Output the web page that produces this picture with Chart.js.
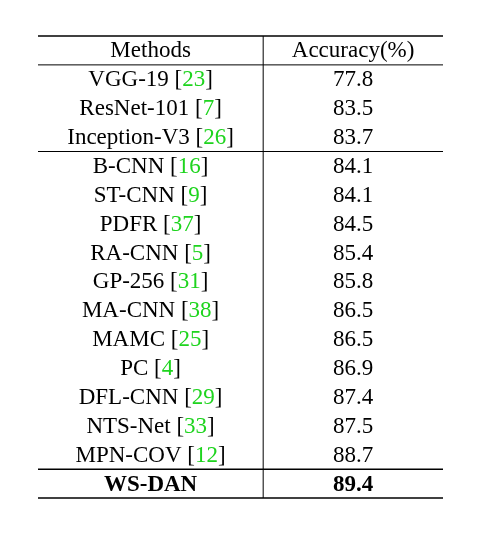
<!DOCTYPE html>
<html>
<head>
<meta charset="utf-8">
<script src="https://cdn.jsdelivr.net/npm/chart.js@4"></script>
<style>
  html, body { margin: 0; background: #fff; }
  #wrap { width: 481px; height: 543px; }
</style>
</head>
<body>
<div id="wrap"><canvas id="chart"></canvas></div>
<script>
// table rows
const methods = ['VGG-19', 'ResNet-101', 'Inception-V3', 'B-CNN', 'ST-CNN', 'PDFR', 'RA-CNN', 'GP-256',
  'MA-CNN', 'MAMC', 'PC', 'DFL-CNN', 'NTS-Net', 'MPN-COV', 'WS-DAN']
const refs = [23, 7, 26, 16, 9, 37, 5, 31, 38, 25, 4, 29, 33, 12, null]
const accuracy = [77.8, 83.5, 83.7, 84.1, 84.1, 84.5, 85.4, 85.8, 86.5, 86.5, 86.9, 87.4, 87.5, 88.7, 89.4]
const headers = ['Methods', 'Accuracy(%)']

const rowLabels = ['header', ...methods]

const tablePlugin = {
  id: 'table',
  afterDraw (chart) {
    const { ctx, chartArea: a, scales: { x, y } } = chart
    const rowH = y.getPixelForValue(1) - y.getPixelForValue(0)
    const edge = i => y.getPixelForValue(i) - rowH / 2
    const divX = x.getPixelForValue(0.556)
    const col1 = x.getPixelForValue(0.278)
    const col2 = x.getPixelForValue(0.778)
    const font = '23px "Liberation Serif"'

    ctx.save()
    ctx.strokeStyle = '#000'
    const hline = (yy, w) => { ctx.lineWidth = w; ctx.beginPath(); ctx.moveTo(a.left, yy); ctx.lineTo(a.right, yy); ctx.stroke() }
    hline(edge(0), 1.5)
    hline(edge(1), 1)
    hline(edge(4), 1)
    hline(edge(15), 1.5)
    hline(edge(16), 1.5)
    ctx.lineWidth = 1
    ctx.beginPath(); ctx.moveTo(divX, edge(0)); ctx.lineTo(divX, edge(16)); ctx.stroke()

    ctx.textBaseline = 'middle'
    ctx.fillStyle = '#000'
    ctx.font = font
    ctx.textAlign = 'center'
    ctx.fillText(headers[0], col1, y.getPixelForValue(0) + 1)
    ctx.fillText(headers[1], col2, y.getPixelForValue(0) + 1)

    methods.forEach((m, i) => {
      const yy = y.getPixelForValue(i + 1) + 1
      const bold = refs[i] === null
      ctx.font = (bold ? 'bold ' : '') + font
      const parts = [[m, '#000']]
      if (!bold) parts.push([' [', '#000'], [String(refs[i]), '#1ed41e'], [']', '#000'])
      const total = parts.reduce((s, p) => s + ctx.measureText(p[0]).width, 0)
      let xx = col1 - total / 2
      ctx.textAlign = 'left'
      parts.forEach(([t, c]) => { ctx.fillStyle = c; ctx.fillText(t, xx, yy); xx += ctx.measureText(t).width })
      ctx.fillStyle = '#000'
      ctx.textAlign = 'center'
      ctx.fillText(accuracy[i].toFixed(1), col2, yy)
    })
    ctx.restore()
  }
}

new Chart(document.getElementById('chart'), {
  type: 'scatter',
  data: { labels: rowLabels, datasets: [{ data: [], pointRadius: 0 }] },
  options: {
    responsive: true,
    maintainAspectRatio: false,
    animation: false,
    layout: { padding: { left: 38, right: 38, top: 36, bottom: 45 } },
    plugins: { legend: { display: false }, tooltip: { enabled: false } },
    scales: {
      x: { type: 'linear', min: 0, max: 1, display: false },
      y: { type: 'category', labels: rowLabels, offset: true, display: false }
    }
  },
  plugins: [tablePlugin]
})
</script>
</body>
</html>
